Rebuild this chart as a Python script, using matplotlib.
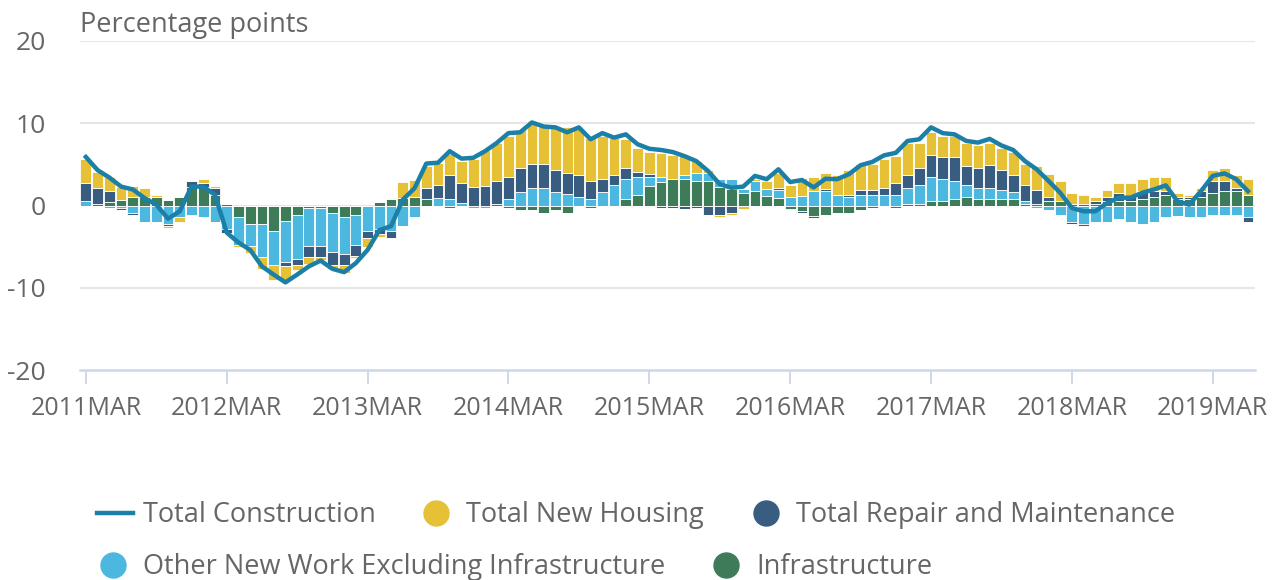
import numpy as np
import matplotlib
matplotlib.use("Agg")
import matplotlib.pyplot as plt
from matplotlib.lines import Line2D

# ---------------- data ----------------
start_year = 2011
month_names = ["JAN", "FEB", "MAR", "APR", "MAY", "JUN", "JUL", "AUG", "SEP", "OCT", "NOV", "DEC"]
categories = []
for k in range(100):
    m = 2 + k
    categories.append(f"{start_year + m // 12}{month_names[m % 12]}")

tick_labels = ["2011MAR", "2012MAR", "2013MAR", "2014MAR", "2015MAR",
               "2016MAR", "2017MAR", "2018MAR", "2019MAR"]

new_housing = [3.0, 2.0, 1.7, 1.6, 1.35, 1.05, 0.25, -0.25, -0.55, 0, 0.5, 0.3, 0, -0.2, -0.8, -1.4, -1.8, -1.7, -0.6, -0.8,
               -0.3, -0.5, -1.0, -0.3, -1.2, -0.3, 0.2, 1.9, 2.1, 2.75, 2.75, 2.6, 2.7, 3.35, 4.4, 4.6, 5.0, 4.65, 5.15, 4.65,
               5.2, 5.5, 5.6, 5.25, 5.2, 4.5, 3.5, 2.95, 2.7, 2.9, 3.0, 2.25, 1.4, 0.3, -0.3, -0.25, -0.4, 0.2, 1.0, 1.8,
               1.55, 2.2, 1.7, 2.0, 2.45, 3.0, 3.25, 3.25, 3.6, 3.3, 3.8, 3.0, 2.75, 2.45, 2.45, 2.75, 2.75, 2.75, 2.7, 2.75,
               2.65, 2.95, 2.8, 2.5, 1.35, 1.1, 0.5, 0.85, 1.15, 1.5, 1.4, 1.75, 1.7, 0.5, 0.3, 0.3, 1.3, 1.6, 1.65, 1.9]
repair_maint = [2.2, 1.9, 1.4, -0.3, -0.25, 0, 0, -0.3, 0, 0.7, 0.4, 0.8, -0.5, 0, 0, 0, 0, -0.4, -0.7, -1.4,
                -1.4, -1.6, -1.3, -1.3, -0.8, -0.6, -0.8, 0, 0, 1.3, 1.55, 2.9, 2.45, 2.3, 2.35, 2.8, 2.7, 2.95, 3.0, 3.0,
                2.7, 2.65, 2.7, 2.2, 1.65, 1.3, 1.35, 0.55, 0.3, -0.3, -0.3, -0.4, -0.35, -1.1, -1.1, -0.9, 0, 0, 0, 0.25,
                -0.2, -0.2, -0.2, 0.2, 0, 0.3, 0.55, 0.55, 0.8, 1.4, 1.65, 2.1, 2.7, 2.7, 2.95, 2.35, 2.45, 2.8, 2.45, 2.15,
                1.95, 1.65, 0.5, 0, -0.2, -0.2, 0.3, 0.5, 1.05, 0.7, 1.05, 0.75, 0.5, 0.3, 0.25, 0.8, 1.45, 1.2, 0.3, -0.6]
other_new = [0.5, 0, -0.3, -0.3, -0.9, -1.95, -1.95, -2.2, -1.4, -1.1, -1.4, -1.95, -2.9, -3.4, -2.65, -4.0, -4.1, -5.0, -5.3, -4.6,
             -4.6, -4.7, -4.5, -3.6, -3.1, -2.9, -3.1, -2.5, -1.4, 0, 0.9, 0.8, 0.25, -0.3, -0.3, 0, 0.8, 1.6, 2.1, 2.1,
             1.6, 1.35, 1.05, 0.8, 1.6, 2.45, 2.45, 2.2, 1.15, 0.6, 0, 0.5, 1.0, 1.0, 0.9, 1.25, 0.45, 1.2, 0.8, 0.9,
             1.0, 1.2, 1.8, 1.8, 1.3, 1.0, 1.3, 1.3, 1.3, 1.3, 1.9, 2.25, 3.0, 2.75, 2.25, 1.45, 1.3, 1.3, 1.1, 0.85,
             0.3, -0.35, -0.55, -1.1, -2.0, -2.3, -1.95, -1.95, -1.7, -1.95, -2.25, -1.95, -1.4, -1.3, -1.4, -1.4, -1.1, -1.1, -1.1, -1.4]
infrastructure = [0, 0.2, 0.4, 0.7, 1.05, 1.05, 1.05, 0.7, 1.0, 2.3, 2.3, 1.3, 0.2, -1.4, -2.3, -2.3, -3.1, -1.9, -1.2, -0.3,
                  -0.3, -0.9, -1.4, -1.2, 0, 0.45, 0.75, 0.95, 1.05, 0.8, 0, -0.35, 0, 0, 0, 0.2, -0.35, -0.5, -0.5, -0.9,
                  -0.5, -0.9, 0, -0.35, 0, 0, 0.8, 1.3, 2.35, 2.9, 3.2, 3.25, 3.0, 3.0, 2.3, 1.95, 1.55, 1.8, 1.2, 0.95,
                  -0.4, -0.7, -1.3, -1.1, -0.9, -0.9, -0.5, -0.35, 0, -0.35, 0.2, 0.2, 0.5, 0.5, 0.75, 1.0, 0.8, 0.8, 0.75, 0.75,
                  0.2, 0.2, 0.5, 0.5, 0.2, 0.2, 0.2, 0.5, 0.5, 0.5, 0.75, 1.0, 1.3, 0.75, 0.75, 1.0, 1.55, 1.8, 1.8, 1.3]
total_construction = [5.9, 4.3, 3.4, 2.3, 1.95, 0.9, 0.1, -1.6, -0.7, 2.3, 2.3, 1.3, -3.3, -4.5, -5.4, -7.4, -8.4, -9.35, -8.4, -7.4,
                      -6.7, -7.7, -8.1, -7.0, -5.4, -3.0, -2.5, 0.7, 2.1, 5.1, 5.2, 6.6, 5.7, 5.8, 6.6, 7.6, 8.8, 8.9, 10.1, 9.6,
                      9.5, 8.9, 9.5, 8.05, 8.8, 8.25, 8.65, 7.45, 6.9, 6.75, 6.5, 6.0, 5.4, 4.2, 2.6, 2.15, 2.3, 3.6, 3.2, 4.4,
                      2.85, 3.1, 2.2, 3.25, 3.2, 3.8, 4.9, 5.3, 6.1, 6.4, 7.85, 8.05, 9.5, 8.8, 8.65, 7.85, 7.65, 8.1, 7.3, 6.75,
                      5.4, 4.4, 3.0, 1.55, -0.3, -0.7, -0.7, 0.3, 0.95, 0.95, 1.55, 1.95, 2.45, 0.5, 0.1, 1.75, 3.6, 3.9, 3.2, 1.75]

# ---------------- style ----------------
C_LINE = "#1b7fa8"
C_HOUS = "#e6c136"
C_REP = "#385d81"
C_OTH = "#4cb7df"
C_INF = "#3d7b59"
TXT = "#666666"
FONT = ["Open Sans", "DejaVu Sans"]
FS_LEG = 19.5
FS_X = 18
FS_Y = 19

plt.rcParams["font.family"] = FONT

fig = plt.figure(figsize=(12.79, 5.80), dpi=100)
ax = fig.add_axes([80 / 1279, 1 - 370 / 580, (1255 - 80) / 1279, (370 - 41) / 580])

x = np.arange(len(categories))
# stack order from zero outward: infrastructure, other new, repair, housing
stack = [(infrastructure, C_INF), (other_new, C_OTH), (repair_maint, C_REP), (new_housing, C_HOUS)]
pos_base = np.zeros(len(x))
neg_base = np.zeros(len(x))
for vals, col in stack:
    v = np.array(vals, dtype=float)
    p = np.where(v > 0, v, 0)
    n = np.where(v < 0, v, 0)
    ax.bar(x, p, bottom=pos_base, width=0.92, color=col, edgecolor="white", linewidth=0.6, zorder=2)
    ax.bar(x, n, bottom=neg_base, width=0.92, color=col, edgecolor="white", linewidth=0.6, zorder=2)
    pos_base += p
    neg_base += n

ax.plot(x, total_construction, color=C_LINE, lw=3.2, zorder=3, solid_joinstyle="round")

ax.set_xlim(-0.5, 99.6)
ax.set_ylim(-20, 20)
ax.set_yticks([-20, -10, 0, 10, 20])
ax.set_yticklabels(["-20", "-10", "0", "10", "20"])
for yv in [-10, 0, 10, 20]:
    ax.axhline(yv, color="#e6e6e6", lw=1.5, zorder=1)

tick_pos = [categories.index(t) for t in tick_labels]
ax.set_xticks(tick_pos)
ax.set_xticklabels(tick_labels)

for s in ["top", "right", "left"]:
    ax.spines[s].set_visible(False)
ax.spines["bottom"].set_color("#ccd6eb")
ax.spines["bottom"].set_linewidth(1.8)
ax.tick_params(axis="x", length=10, width=1.3, color="#ccd6eb", pad=9, labelsize=FS_X, labelcolor=TXT)
ax.tick_params(axis="y", length=0, pad=24.5, labelsize=FS_Y, labelcolor=TXT)

fig.text(80 / 1279, 1 - 25 / 580, "Percentage points", fontsize=FS_LEG, color=TXT, ha="left", va="center")

# ---------------- legend (manual) ----------------
def fx(px):
    return px / 1279

def fy(py):
    return 1 - py / 580

row1, row2 = 515, 567
fig.add_artist(Line2D([fx(97), fx(133)], [fy(row1 - 2), fy(row1 - 2)], color=C_LINE, lw=3.2,
                      transform=fig.transFigure))
fig.text(fx(143), fy(row1), "Total Construction", fontsize=FS_LEG, color=TXT, va="center", ha="left")
legend_items = [
    (436, row1, C_HOUS, 466, "Total New Housing"),
    (766, row1, C_REP, 796, "Total Repair and Maintenance"),
    (113, row2, C_OTH, 143, "Other New Work Excluding Infrastructure"),
    (726, row2, C_INF, 756, "Infrastructure"),
]
for cx, cy, col, tx, label in legend_items:
    fig.add_artist(Line2D([fx(cx)], [fy(cy - 2)], marker="o", markersize=18, color=col, lw=0,
                          transform=fig.transFigure))
    fig.text(fx(tx), fy(cy), label, fontsize=FS_LEG, color=TXT, va="center", ha="left")

fig.savefig("out.png", dpi=100, facecolor="white")
